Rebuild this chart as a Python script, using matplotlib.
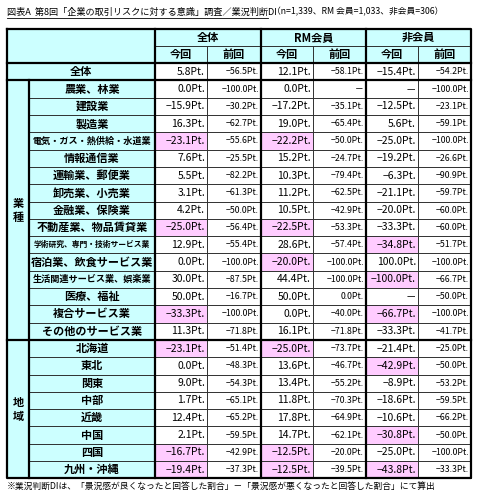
import matplotlib
matplotlib.use("Agg")
import matplotlib.pyplot as plt
from matplotlib.patches import Rectangle

plt.rcParams['font.family'] = ['Noto Sans CJK JP', 'DejaVu Sans']

groups = ["全体", "RM会員", "非会員"]
subheads = ["今回", "前回"]
total_label = "全体"
total_values = ["5.8", "-56.5", "12.1", "-58.1", "-15.4", "-54.2"]

industries = ["農業、林業", "建設業", "製造業", "電気・ガス・熱供給・水道業", "情報通信業",
              "運輸業、郵便業", "卸売業、小売業", "金融業、保険業", "不動産業、物品賃貸業",
              "学術研究、専門・技術サービス業", "宿泊業、飲食サービス業", "生活関連サービス業、娯楽業",
              "医療、福祉", "複合サービス業", "その他のサービス業"]
industry_values = [
    ["0.0", "-100.0", "0.0", None, None, "-100.0"],
    ["-15.9", "-30.2", "-17.2", "-35.1", "-12.5", "-23.1"],
    ["16.3", "-62.7", "19.0", "-65.4", "5.6", "-59.1"],
    ["-23.1", "-55.6", "-22.2", "-50.0", "-25.0", "-100.0"],
    ["7.6", "-25.5", "15.2", "-24.7", "-19.2", "-26.6"],
    ["5.5", "-82.2", "10.3", "-79.4", "-6.3", "-90.9"],
    ["3.1", "-61.3", "11.2", "-62.5", "-21.1", "-59.7"],
    ["4.2", "-50.0", "10.5", "-42.9", "-20.0", "-60.0"],
    ["-25.0", "-56.4", "-22.5", "-53.3", "-33.3", "-60.0"],
    ["12.9", "-55.4", "28.6", "-57.4", "-34.8", "-51.7"],
    ["0.0", "-100.0", "-20.0", "-100.0", "100.0", "-100.0"],
    ["30.0", "-87.5", "44.4", "-100.0", "-100.0", "-66.7"],
    ["50.0", "-16.7", "50.0", "0.0", None, "-50.0"],
    ["-33.3", "-100.0", "0.0", "-40.0", "-66.7", "-100.0"],
    ["11.3", "-71.8", "16.1", "-71.8", "-33.3", "-41.7"],
]
regions = ["北海道", "東北", "関東", "中部", "近畿", "中国", "四国", "九州・沖縄"]
region_values = [
    ["-23.1", "-51.4", "-25.0", "-73.7", "-21.4", "-25.0"],
    ["0.0", "-48.3", "13.6", "-46.7", "-42.9", "-50.0"],
    ["9.0", "-54.3", "13.4", "-55.2", "-8.9", "-53.2"],
    ["1.7", "-65.1", "11.8", "-70.3", "-18.6", "-59.5"],
    ["12.4", "-65.2", "17.8", "-64.9", "-10.6", "-66.2"],
    ["2.1", "-59.5", "14.7", "-62.1", "-30.8", "-50.0"],
    ["-16.7", "-42.9", "-12.5", "-20.0", "-25.0", "-100.0"],
    ["-19.4", "-37.3", "-12.5", "-39.5", "-43.8", "-33.3"],
]
# highlighted (row label, column index)
highlights = {("電気・ガス・熱供給・水道業", 0), ("電気・ガス・熱供給・水道業", 2),
              ("不動産業、物品賃貸業", 0), ("不動産業、物品賃貸業", 2),
              ("学術研究、専門・技術サービス業", 4), ("宿泊業、飲食サービス業", 2),
              ("生活関連サービス業、娯楽業", 4), ("複合サービス業", 0), ("複合サービス業", 4),
              ("北海道", 0), ("北海道", 2), ("東北", 4), ("中国", 4),
              ("四国", 0), ("四国", 2), ("九州・沖縄", 0), ("九州・沖縄", 2), ("九州・沖縄", 4)}

title = "図表A  第8回「企業の取引リスクに対する意識」調査／業況判断DI"
subtitle = "（n=1,339、RM 会員=1,033、非会員=306）"
footnote = "※業況判断DIは、「景況感が良くなったと回答した割合」－「景況感が悪くなったと回答した割合」にて算出"

fig = plt.figure(figsize=(4.8, 5.0), dpi=100)
ax = fig.add_axes([0, 0, 1, 1])
ax.set_xlim(0, 480); ax.set_ylim(500, 0); ax.axis('off')

CYAN = "#ccffff"; PINK = "#ffccff"
colx = [155, 207, 261, 313, 366, 418, 471]
X0, XG = 7, 29
top = 28.5; rh = 17.3
y_h2 = top + rh; y_tot = top + 2 * rh; y_ind = top + 3 * rh
y_reg = y_ind + len(industries) * rh; bottom = y_reg + len(regions) * rh

def rect(x0, y0, x1, y1, fc, lw=0.6):
    ax.add_patch(Rectangle((x0, y0), x1 - x0, y1 - y0, fc=fc, ec="#222222", lw=lw))

def fmt(v):
    if v is None:
        return "－"
    return (v.replace("-", "−")) + "Pt."

# header
rect(X0, top, colx[0], y_tot, CYAN)
for g in range(3):
    rect(colx[2*g], top, colx[2*g+2], y_h2, CYAN)
    ax.text((colx[2*g] + colx[2*g+2]) / 2, (top + y_h2) / 2, groups[g], ha='center', va='center', fontsize=8, fontweight='bold')
    for s in range(2):
        rect(colx[2*g+s], y_h2, colx[2*g+s+1], y_tot, CYAN)
        ax.text((colx[2*g+s] + colx[2*g+s+1]) / 2, (y_h2 + y_tot) / 2, subheads[s], ha='center', va='center', fontsize=8, fontweight='bold')

def draw_row(label, vals, y, full=False):
    if full:
        rect(X0, y, colx[0], y + rh, CYAN)
        ax.text((X0 + colx[0]) / 2, y + rh / 2, label, ha='center', va='center', fontsize=8, fontweight='bold')
    else:
        rect(XG, y, colx[0], y + rh, CYAN)
        n = len(label)
        fs = 8 if n < 12 else (7 if n < 13 else (6.6 if n < 14 else 5.6))
        ax.text((XG + colx[0]) / 2, y + rh / 2, label, ha='center', va='center', fontsize=fs, fontweight='bold')
    for i, v in enumerate(vals):
        fc = PINK if (label, i) in highlights else "white"
        rect(colx[i], y, colx[i+1], y + rh, fc)
        ax.text(colx[i+1] - 2, y + rh / 2, fmt(v), ha='right', va='center',
                fontsize=7.5 if i % 2 == 0 else 6.3)

draw_row(total_label, total_values, y_tot, full=True)
for k, (lab, vals) in enumerate(zip(industries, industry_values)):
    draw_row(lab, vals, y_ind + k * rh)
for k, (lab, vals) in enumerate(zip(regions, region_values)):
    draw_row(lab, vals, y_reg + k * rh)

rect(X0, y_ind, XG, y_reg, CYAN)
ax.text((X0 + XG) / 2, (y_ind + y_reg) / 2, "業\n種", ha='center', va='center', fontsize=8, fontweight='bold', linespacing=1.1)
rect(X0, y_reg, XG, bottom, CYAN)
ax.text((X0 + XG) / 2, (y_reg + bottom) / 2, "地\n域", ha='center', va='center', fontsize=8, fontweight='bold', linespacing=1.1)

# thick lines
lk = dict(color="black", lw=1.6)
ax.plot([X0, colx[-1], colx[-1], X0, X0], [top, top, bottom, bottom, top], **lk)
for x in (colx[0], colx[2], colx[4]):
    ax.plot([x, x], [top, bottom], **lk)
for y in (y_tot, y_ind, y_reg):
    ax.plot([X0, colx[-1]], [y, y], **lk)
ax.plot([XG, XG], [y_ind, bottom], **lk)

ax.text(7, 12, title, ha='left', va='center', fontsize=6.6)
ax.plot([7, 268], [17.5, 17.5], color="black", lw=0.6)
ax.text(272, 12, subtitle, ha='left', va='center', fontsize=6.3)
ax.text(7, 486, footnote, ha='left', va='center', fontsize=6.3)

fig.savefig("out.png", dpi=100)
